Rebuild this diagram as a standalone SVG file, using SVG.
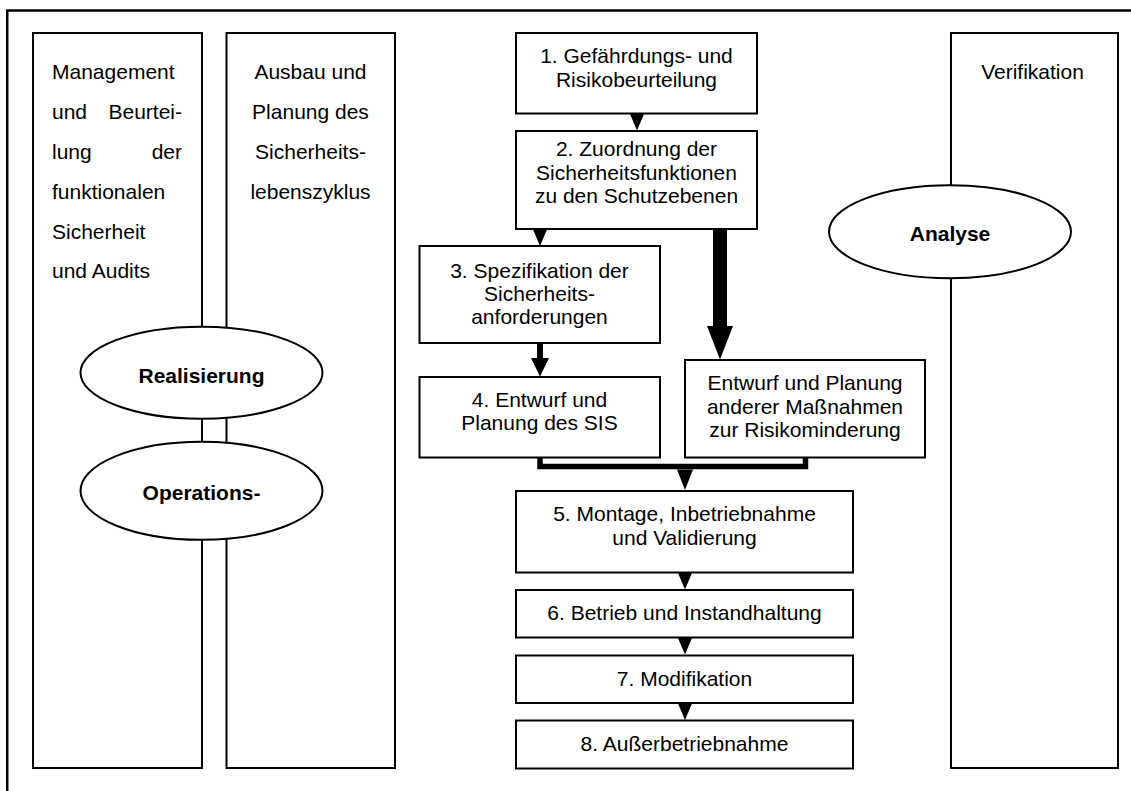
<svg xmlns="http://www.w3.org/2000/svg" width="1131" height="791" viewBox="0 0 1131 791">
  <style>
    .frame { fill: none; stroke: #000; stroke-width: 2.5; }
    .col { fill: #fff; stroke: #000; stroke-width: 2; }
    .box { fill: #fff; stroke: #000; stroke-width: 2; }
    .oval { fill: #fff; stroke: #000; stroke-width: 2; }
    .t { font-family: "Liberation Sans", Arial, sans-serif; font-size: 21px; fill: #000; }
    .c { text-anchor: middle; }
    .b { font-weight: bold; }
    .arrow { fill: #000; stroke: none; }
    .bar { fill: none; stroke: #000; stroke-width: 5.5; stroke-linejoin: miter; stroke-linecap: butt; }
  </style>
  <defs>
    <!-- small solid arrowhead pointing down, tip at (0,16) -->
    <path id="head" d="M-7,0 L7,0 L0,16.5 Z"/>
  </defs>

  <rect width="1131" height="791" fill="#fff"/>
  <!-- outer frame (open to the right and bottom) -->
  <rect class="frame" x="7.25" y="10.5" width="1200" height="900"/>

  <!-- side columns -->
  <g id="col-management">
    <rect class="col" x="33" y="33" width="169" height="735"/>
    <text class="t" x="52" y="79.3">Management</text>
    <text class="t" y="119.1"><tspan x="52">und</tspan><tspan x="182" text-anchor="end">Beurtei-</tspan></text>
    <text class="t" y="158.9"><tspan x="52">lung</tspan><tspan x="182" text-anchor="end">der</tspan></text>
    <text class="t" x="52" y="198.7">funktionalen</text>
    <text class="t" x="52" y="238.5">Sicherheit</text>
    <text class="t" x="52" y="278.3">und Audits</text>
  </g>
  <g id="col-lifecycle">
    <rect class="col" x="226.5" y="33" width="168.5" height="735"/>
    <text class="t c" x="310.5" y="79.3">Ausbau und</text>
    <text class="t c" x="310.5" y="119.1">Planung des</text>
    <text class="t c" x="310.5" y="158.9">Sicherheits-</text>
    <text class="t c" x="310.5" y="198.7">lebenszyklus</text>
  </g>
  <g id="col-verification">
    <rect class="col" x="951" y="33" width="167" height="735"/>
    <text class="t c" x="1032.5" y="78.5">Verifikation</text>
  </g>

  <!-- ellipses over the columns -->
  <g id="oval-realisierung">
    <ellipse class="oval" cx="201.5" cy="372.7" rx="121" ry="46"/>
    <text class="t c b" x="201.5" y="383">Realisierung</text>
  </g>
  <g id="oval-operations">
    <ellipse class="oval" cx="201.5" cy="490.8" rx="121" ry="49"/>
    <text class="t c b" x="201.5" y="500">Operations-</text>
  </g>
  <g id="oval-analyse">
    <ellipse class="oval" cx="950" cy="231.7" rx="121" ry="46.5"/>
    <text class="t c b" x="950" y="240.5">Analyse</text>
  </g>

  <!-- process steps -->
  <g id="step1">
    <rect class="box" x="516" y="33" width="241" height="80.5"/>
    <text class="t c" x="636.5" y="63.3">1. Gefährdungs- und</text>
    <text class="t c" x="636.5" y="87.3">Risikobeurteilung</text>
  </g>
  <g id="step2">
    <rect class="box" x="516" y="131" width="241" height="98"/>
    <text class="t c" x="636.5" y="156">2. Zuordnung der</text>
    <text class="t c" x="636.5" y="179.5">Sicherheitsfunktionen</text>
    <text class="t c" x="636.5" y="203">zu den Schutzebenen</text>
  </g>
  <g id="step3">
    <rect class="box" x="419.5" y="246" width="240.5" height="97"/>
    <text class="t c" x="539.5" y="278">3. Spezifikation der</text>
    <text class="t c" x="539.5" y="301">Sicherheits-</text>
    <text class="t c" x="539.5" y="324">anforderungen</text>
  </g>
  <g id="step4">
    <rect class="box" x="419.5" y="377" width="240.5" height="80.5"/>
    <text class="t c" x="539.5" y="407">4. Entwurf und</text>
    <text class="t c" x="539.5" y="430">Planung des SIS</text>
  </g>
  <g id="step-other">
    <rect class="box" x="685" y="360" width="240" height="97.5"/>
    <text class="t c" x="805" y="390">Entwurf und Planung</text>
    <text class="t c" x="805" y="413.5">anderer Maßnahmen</text>
    <text class="t c" x="805" y="437">zur Risikominderung</text>
  </g>
  <g id="step5">
    <rect class="box" x="516" y="491" width="337" height="81.5"/>
    <text class="t c" x="684.5" y="521">5. Montage, Inbetriebnahme</text>
    <text class="t c" x="684.5" y="545">und Validierung</text>
  </g>
  <g id="step6">
    <rect class="box" x="516" y="590" width="337" height="47.5"/>
    <text class="t c" x="684.5" y="620">6. Betrieb und Instandhaltung</text>
  </g>
  <g id="step7">
    <rect class="box" x="516" y="655.5" width="337" height="47.5"/>
    <text class="t c" x="684.5" y="686">7. Modifikation</text>
  </g>
  <g id="step8">
    <rect class="box" x="516" y="720.5" width="337" height="48"/>
    <text class="t c" x="684.5" y="751">8. Außerbetriebnahme</text>
  </g>

  <!-- connectors -->
  <g id="connectors">
    <use href="#head" class="arrow" x="637" y="114"/>
    <use href="#head" class="arrow" x="540" y="229.5"/>
    <!-- 3 to 4 -->
    <rect class="arrow" x="537" y="343" width="6" height="16"/>
    <polygon class="arrow" points="531,358 549,358 540,376.5"/>
    <!-- 2 to other measures (heavy arrow) -->
    <rect class="arrow" x="713" y="229" width="14" height="98"/>
    <polygon class="arrow" points="707,326 733,326 720,359.5"/>
    <!-- merge of both design branches into 5 -->
    <polyline class="bar" points="540,457 540,466.5 805.5,466.5 805.5,457"/>
    <polygon class="arrow" points="677,469.5 693,469.5 685,490"/>
    <use href="#head" class="arrow" x="685" y="573"/>
    <use href="#head" class="arrow" x="685" y="638"/>
    <use href="#head" class="arrow" x="685" y="703.5"/>
  </g>
</svg>
